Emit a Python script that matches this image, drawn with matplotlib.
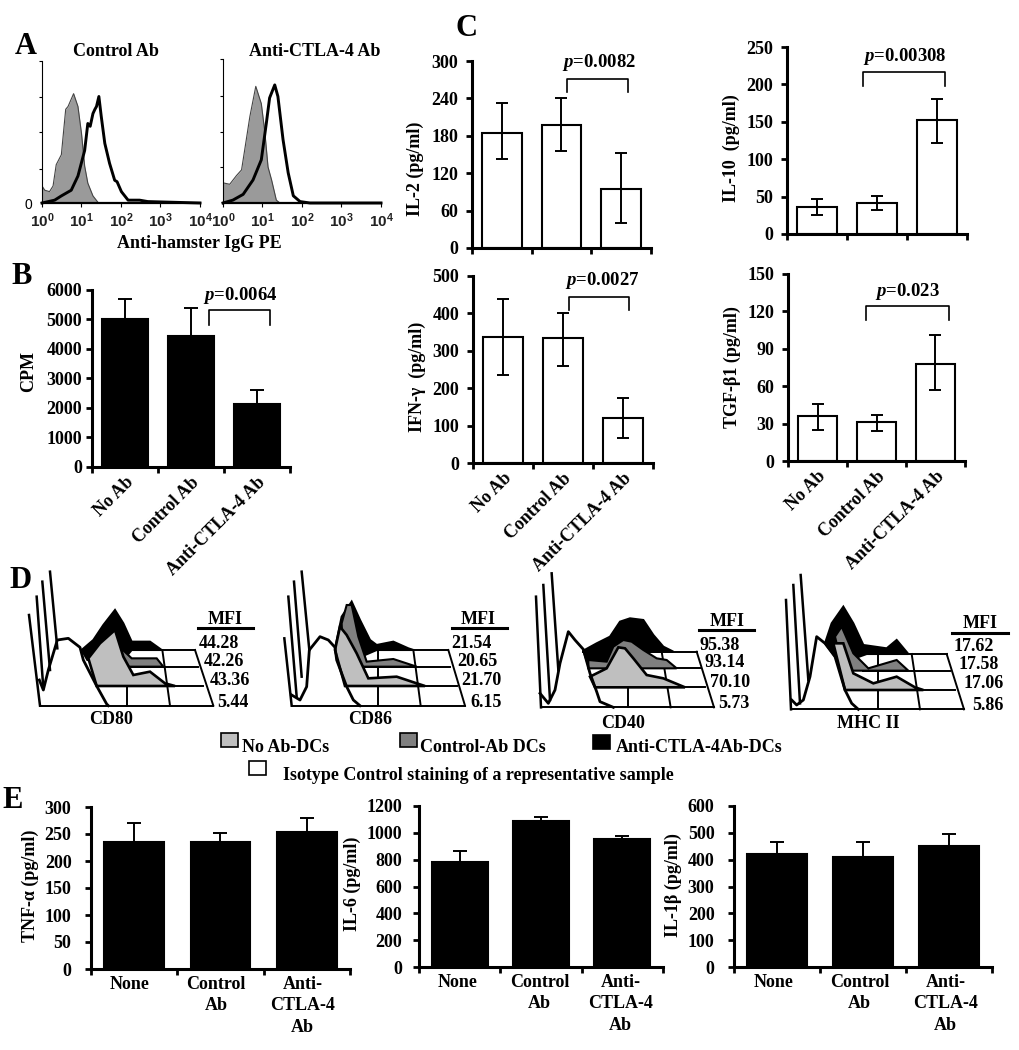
#!/usr/bin/env python3

import matplotlib
matplotlib.use("Agg")
import matplotlib.pyplot as plt
from matplotlib.patches import Rectangle

plt.rcParams["font.family"] = "Liberation Serif"
plt.rcParams["font.weight"] = "bold"
plt.rcParams["font.size"] = 13
plt.rcParams["mathtext.fontset"] = "custom"
plt.rcParams["mathtext.it"] = "Liberation Serif:italic:bold"
plt.rcParams["mathtext.rm"] = "Liberation Serif:bold"
plt.rcParams["mathtext.sf"] = "Liberation Sans"

W, H = 1020, 1050

# panel A, log10 of fluorescence and percent of scale
a1_iso_x = [0, .07, .19, .28, .36, .49, .6, .66, .8, .91, 1.0, 1.08, 1.16, 1.29, 1.43]
a1_iso_y = [12, 9, 8, 12, 27, 34, 66, 68, 77, 68, 49, 26, 14, 5, 0]
a1_ab_x = [0, .32, .49, .74, .91, 1.08, 1.16, 1.22, 1.29, 1.34, 1.38, 1.44, 1.5, 1.59, 1.71, 1.84, 1.9, 2.01, 2.18, 2.47, 2.68, 4.0]
a1_ab_y = [0, 2, 5, 9, 19, 37, 56, 54, 63, 66, 68, 75, 61, 42, 28, 16, 15, 8, 2, 2, 1, 0]
a2_iso_x = [0, .17, .34, .47, .55, .68, .83, .97, 1.06, 1.14, 1.23, 1.35, 1.44]
a2_iso_y = [14, 13, 19, 23, 37, 60, 81, 69, 49, 25, 16, 2, 0]
a2_ab_x = [0, .25, .51, .76, .97, 1.10, 1.18, 1.31, 1.39, 1.52, 1.65, 1.78, 1.95, 2.2, 4.0]
a2_ab_y = [0, 2, 6, 16, 30, 56, 73, 82, 74, 44, 21, 5, 1, 0, 0]

# bar panels
cats_b = ["No Ab", "Control Ab", "Anti-CTLA-4 Ab"]
cats_e = ["None", "Control\nAb", "Anti-\nCTLA-4\nAb"]
cpm = [5030, 4450, 2150]
cpm_hi = [5680, 5380, 2600]
il2 = [184, 198, 94]
il2_lo = [142, 155, 40]
il2_hi = [232, 240, 152]
il10 = [36, 42, 152]
il10_lo = [25, 32, 122]
il10_hi = [47, 51, 180]
ifng = [337, 333, 120]
ifng_lo = [235, 260, 68]
ifng_hi = [438, 400, 174]
tgfb = [36, 31, 78]
tgfb_lo = [25, 24, 57]
tgfb_hi = [46, 37, 101]
tnfa = [236, 236, 253]
tnfa_hi = [271, 252, 280]
il6 = [785, 1090, 955]
il6_hi = [865, 1120, 980]
il1b = [422, 410, 452]
il1b_hi = [465, 465, 495]

# panel D, traces
cd80_black = [(262, 300), (245, 270), (280, 240), (310, 195), (345, 150), (370, 190), (395, 245), (450, 245),
              (485, 270), (395, 270), (370, 300)]
cd80_dark = [(360, 320), (360, 262), (395, 295), (470, 295), (490, 320)]
cd80_light = [(290, 378), (265, 295), (300, 250), (345, 210), (370, 290), (400, 345), (450, 335), (495, 370), (525, 378)]
cd80_valley = [(118, 360), (130, 390), (145, 330), (172, 240), (205, 235), (240, 262), (250, 300), (290, 378), (320, 432), (325, 437)]
cd80_spikes = [(87, 165, 120, 437), (110, 110, 130, 385), (127, 65, 150, 330), (150, 35, 172, 265)]
cd80_frames = [(120, 437, 640, 437), (290, 378, 610, 378), (390, 320, 595, 320), (480, 270, 585, 270),
               (585, 270, 640, 437), (380, 378, 380, 437), (487, 270, 510, 437)]
cd86_black = [(1015, 300), (1005, 265), (1025, 170), (1055, 125), (1080, 180), (1110, 240), (1130, 255), (1180, 245),
              (1225, 265), (1240, 270), (1130, 270), (1060, 300)]
cd86_dark = [(1030, 320), (1025, 190), (1040, 135), (1055, 135), (1075, 230), (1100, 305), (1180, 297), (1250, 320)]
cd86_light = [(1035, 378), (1005, 270), (1020, 200), (1040, 225), (1070, 280), (1105, 355), (1190, 350), (1250, 370), (1275, 378)]
cd86_valley = [(875, 405), (900, 420), (920, 380), (928, 270), (960, 230), (985, 240), (1005, 262), (1010, 300), (1040, 380), (1060, 420), (1080, 437)]
cd86_spikes = [(853, 235, 875, 437), (865, 110, 890, 410), (882, 65, 905, 350), (905, 35, 928, 270)]
cd86_frames = [(875, 437, 1395, 437), (1035, 378, 1370, 378), (1090, 320, 1350, 320), (1100, 270, 1345, 270),
               (1345, 270, 1395, 437), (1133, 270, 1133, 437), (1240, 270, 1262, 437)]
cd40_black = [(230, 302), (220, 272), (260, 250), (300, 230), (330, 185), (360, 175), (400, 180), (430, 225), (460, 260),
              (490, 275), (400, 275), (330, 302)]
cd40_dark = [(235, 325), (235, 300), (290, 305), (310, 260), (340, 240), (365, 245), (400, 270), (440, 295), (470, 300), (500, 325)]
cd40_light = [(255, 382), (240, 350), (290, 325), (325, 262), (345, 265), (370, 295), (410, 345), (460, 355), (525, 382)]
cd40_valley = [(90, 400), (115, 430), (135, 390), (150, 310), (175, 215), (195, 240), (220, 268), (240, 340), (260, 395), (270, 425), (310, 442)]
cd40_spikes = [(78, 110, 93, 442), (100, 75, 120, 420), (125, 40, 145, 330)]
cd40_frames = [(93, 442, 612, 442), (255, 382, 585, 382), (240, 325, 570, 325), (220, 275, 560, 275),
               (560, 275, 612, 442), (353, 330, 353, 442), (455, 275, 482, 442)]
mhc_black = [(975, 290), (945, 250), (965, 190), (1000, 140), (1030, 190), (1060, 255), (1130, 265), (1160, 240), (1195, 282),
             (1070, 282), (1020, 300)]
mhc_dark = [(1000, 332), (975, 230), (995, 200), (1030, 280), (1075, 325), (1160, 300), (1195, 332)]
mhc_light = [(1005, 390), (970, 250), (1000, 250), (1030, 340), (1090, 370), (1160, 350), (1215, 382), (1240, 390)]
mhc_valley = [(845, 420), (860, 435), (880, 420), (900, 350), (920, 230), (945, 250), (975, 290), (1005, 390), (1025, 430), (1045, 448)]
mhc_spikes = [(828, 120, 843, 448), (850, 75, 870, 430), (872, 45, 895, 360)]
mhc_frames = [(843, 448, 1362, 448), (1005, 390, 1335, 390), (1060, 332, 1320, 332), (1065, 282, 1310, 282),
              (1310, 282, 1362, 448), (1103, 282, 1103, 448), (1205, 282, 1230, 448)]

cd80_mfi = ["44.28", "42.26", "43.36", "5.44"]
cd86_mfi = ["21.54", "20.65", "21.70", "6.15"]
cd40_mfi = ["95.38", "93.14", "70.10", "5.73"]
mhc_mfi = ["17.62", "17.58", "17.06", "5.86"]

GRAY_LIGHT = "#bfbfbf"
GRAY_DARK = "#808080"
GRAY_A = "#9a9a9a"

fig = plt.figure(figsize=(W / 100, H / 100), dpi=100, facecolor="white")


def axes_px(left, top, right, base):
    return fig.add_axes([left / W, 1 - base / H, (right - left) / W, (base - top) / H])


def flow_panel(left, top, right, base, iso_x, iso_y, ab_x, ab_y, yticks):
    ax = axes_px(left, top, right, base)
    ax.set_xscale("log")
    ax.set_xlim(1, 1e4)
    ax.set_ylim(0, 100)
    ax.fill_between([10 ** v for v in iso_x], iso_y, 0, color=GRAY_A, lw=0)
    ax.plot([10 ** v for v in iso_x], iso_y, c="#444444", lw=0.8)
    ax.plot([10 ** v for v in ab_x], ab_y, c="black", lw=2.1, solid_joinstyle="round", clip_on=False)
    for s in ["top", "right"]:
        ax.spines[s].set_visible(False)
    ax.spines["left"].set_linewidth(0.8)
    ax.spines["bottom"].set_linewidth(1.6)
    ax.set_xticks([1, 10, 100, 1000, 10000])
    ax.set_xticklabels([r"$\mathsf{10^{%d}}$" % i for i in range(5)], fontsize=11, color="#222222")
    ax.tick_params(axis="x", which="major", length=3, width=0.8, pad=3)
    ax.tick_params(axis="x", which="minor", length=2, width=0.5, labelbottom=False)
    ax.set_yticks(yticks)
    ax.set_yticklabels([])
    ax.tick_params(axis="y", length=2, width=0.8)
    ax.patch.set_alpha(0)
    return ax


def bar_panel(box, vals, lo, hi, ymax, yticks, ylabel, label_xy, cats, filled, width, pad=3, shift=0.0, rotate=True):
    left, top, right, base = box
    ax = axes_px(left, top, right, base)
    xs = [0, 1, 2]
    color = "black" if filled else "white"
    ax.bar(xs, vals, width=width, color=color, edgecolor="black", linewidth=1.5, zorder=2)
    if lo is None:
        ax.errorbar(xs, vals, yerr=[[0, 0, 0], [h - v for h, v in zip(hi, vals)]], fmt="none",
                    ecolor="black", elinewidth=1.4, capsize=5, capthick=1.4, zorder=3)
    else:
        ax.errorbar(xs, vals, yerr=[[v - l for v, l in zip(vals, lo)], [h - v for h, v in zip(hi, vals)]],
                    fmt="none", ecolor="black", elinewidth=1.4, capsize=4.5, capthick=1.4, zorder=3)
    ax.set_xlim(-0.5, 2.5)
    ax.set_ylim(0, ymax)
    for s in ["top", "right"]:
        ax.spines[s].set_visible(False)
    for s in ["left", "bottom"]:
        ax.spines[s].set_linewidth(2.2)
        ax.spines[s].set_zorder(5)
    ax.set_yticks(yticks)
    ax.tick_params(axis="y", length=4, width=2, pad=pad, labelsize=13)
    ax.set_xticks([-0.5, 0.5, 1.5, 2.5])
    ax.set_xticklabels([])
    ax.tick_params(axis="x", which="major", length=4, width=2)
    ax.set_xticks([x + shift for x in xs], minor=True)
    if cats is not None:
        if rotate:
            ax.set_xticklabels(cats, minor=True, rotation=45, ha="right", rotation_mode="anchor", fontsize=13)
            ax.tick_params(axis="x", which="minor", length=0, pad=5)
        else:
            ax.set_xticklabels(cats, minor=True, fontsize=13, linespacing=1.35)
            ax.tick_params(axis="x", which="minor", length=0, pad=5)
    else:
        ax.tick_params(axis="x", which="minor", length=0)
    ov.text(label_xy[0], label_xy[1], ylabel, rotation=90, ha="center", va="center", fontsize=13)
    ax.patch.set_alpha(0)
    return ax


def bracket(ax, x0, x1, top, bottom, text, tx, ty):
    ax.plot([x0, x0, x1, x1], [bottom, top, top, bottom], c="black", lw=1.2, clip_on=False, zorder=4)
    ax.text(tx, ty, text, ha="center", va="center", fontsize=13.5, clip_on=False)


def xy(points):
    return [p[0] for p in points], [p[1] for p in points]


def stack(ax, black, dark, light, valley, spikes, frames):
    for f in frames:
        ax.plot([f[0], f[2]], [f[1], f[3]], c="black", lw=1.4, zorder=1)
    for s in spikes:
        ax.plot([s[0], s[2]], [s[1], s[3]], c="black", lw=1.8, zorder=1)
    ax.fill(*xy(black), facecolor="black", edgecolor="black", lw=1.5, zorder=2)
    ax.fill(*xy(dark), facecolor=GRAY_DARK, edgecolor="black", lw=1.5, zorder=3)
    ax.fill(*xy(light), facecolor=GRAY_LIGHT, edgecolor="black", lw=1.9, zorder=4)
    ax.plot(*xy(valley), c="black", lw=2.0, zorder=5)


def mfi(ax, values, cx, top_y, line_x0, line_x1, lefts, ys, name, name_x, name_y):
    ax.text(cx, top_y, "MFI", ha="center", va="center", fontsize=13)
    ax.plot([line_x0, line_x1], [top_y + 26, top_y + 26], c="black", lw=2.2)
    for v, lx, y in zip(values, lefts, ys):
        ax.text(lx, y, v, ha="left", va="center", fontsize=13)
    ax.text(name_x, name_y, name, ha="center", va="center", fontsize=13)


# overlay in image pixels, for loose text and the legend
ov = fig.add_axes([0, 0, 1, 1])
ov.set_xlim(0, W)
ov.set_ylim(H, 0)
ov.axis("off")

for letter, x, y in [("A", 26, 47), ("B", 22, 277), ("C", 467, 28), ("D", 21, 581), ("E", 13, 800)]:
    ov.text(x, y, letter, fontsize=22, ha="center", va="center")

ov.text(116, 51, "Control Ab", ha="center", va="center")
ov.text(315, 51, "Anti-CTLA-4 Ab", ha="center", va="center")
ov.text(199, 243, "Anti-hamster IgG PE", ha="center", va="center")
ov.text(28, 205, "0", ha="center", va="center", fontsize=10, family="Liberation Sans", weight="normal")

flow_panel(42, 61, 200, 203, a1_iso_x, a1_iso_y, a1_ab_x, a1_ab_y, [24, 50, 75, 100])
flow_panel(223, 59, 381, 203, a2_iso_x, a2_iso_y, a2_ab_x, a2_ab_y, [25, 49, 74, 100])

ax = bar_panel((92, 290, 290, 467), cpm, None, cpm_hi, 6000, range(0, 6001, 1000), "CPM", (29, 372), cats_b, True, 0.70)
bracket(ax, 1.27, 2.19, 5322, 4814, "$p$=0.0064", 1.74, 5830)

ax = bar_panel((472, 61, 651, 248), il2, il2_lo, il2_hi, 300, range(0, 301, 60), "IL-2 (pg/ml)", (415, 169), None, False, 0.67, pad=6)
bracket(ax, 1.1, 2.12, 271, 250, "$p$=0.0082", 1.63, 297)

ax = bar_panel((787, 47, 967, 234), il10, il10_lo, il10_hi, 250, range(0, 251, 50), "IL-10  (pg/ml)", (731, 148), None, False, 0.67, pad=6)
bracket(ax, 0.77, 2.13, 216.6, 198, "$p$=0.00308", 1.47, 237)

ax = bar_panel((473, 276, 653, 463), ifng, ifng_lo, ifng_hi, 500, range(0, 501, 100), "IFN-γ  (pg/ml)", (417, 377), cats_b, False, 0.67, pad=6)
bracket(ax, 1.1, 2.1, 444, 409, "$p$=0.0027", 1.65, 487)

ax = bar_panel((788, 274, 965, 461), tgfb, tgfb_lo, tgfb_hi, 150, range(0, 151, 30), "TGF-β1 (pg/ml)", (732, 367), cats_b, False, 0.67, pad=6)
bracket(ax, 0.82, 2.23, 124, 113, "$p$=0.023", 1.52, 136)

bar_panel((91, 807, 350, 969), tnfa, None, tnfa_hi, 300, range(0, 301, 50), "TNF-α (pg/ml)", (30, 886), cats_e, True, 0.69, pad=10, shift=-0.05, rotate=False)
bar_panel((419, 806, 663, 967), il6, None, il6_hi, 1200, range(0, 1201, 200), "IL-6 (pg/ml)", (352, 884), cats_e, True, 0.69, pad=8, shift=-0.02, rotate=False)
bar_panel((734, 806, 992, 967), il1b, None, il1b_hi, 600, range(0, 601, 100), "IL-1β (pg/ml)", (673, 885), cats_e, True, 0.69, pad=10, shift=-0.04, rotate=False)

# panel D, two axes with the units of the read scan
d_left = axes_px(0, 560, 520, 790)
d_left.set_xlim(0, 1560)
d_left.set_ylim(690, 0)
d_left.axis("off")
stack(d_left, cd80_black, cd80_dark, cd80_light, cd80_valley, cd80_spikes, cd80_frames)
stack(d_left, cd86_black, cd86_dark, cd86_light, cd86_valley, cd86_spikes, cd86_frames)
mfi(d_left, cd80_mfi, 675, 178, 595, 760, [595, 612, 628, 652], [250, 303, 362, 427], "CD80", 332, 480)
mfi(d_left, cd86_mfi, 1435, 178, 1355, 1520, [1355, 1372, 1385, 1412], [250, 303, 362, 427], "CD86", 1110, 480)

d_right = axes_px(510, 560, 1020, 790)
d_right.set_xlim(0, 1530)
d_right.set_ylim(690, 0)
d_right.axis("off")
stack(d_right, cd40_black, cd40_dark, cd40_light, cd40_valley, cd40_spikes, cd40_frames)
stack(d_right, mhc_black, mhc_dark, mhc_light, mhc_valley, mhc_spikes, mhc_frames)
mfi(d_right, cd40_mfi, 650, 184, 567, 733, [568, 585, 600, 625], [255, 308, 367, 432], "CD40", 340, 490)
mfi(d_right, mhc_mfi, 1410, 192, 1327, 1495, [1330, 1347, 1362, 1387], [260, 314, 372, 438], "MHC II", 1075, 490)

# legend of panel D
for x, y, color in [(221, 733, GRAY_LIGHT), (400, 733, GRAY_DARK), (593, 735, "black"), (249, 761, "white")]:
    ov.add_patch(Rectangle((x, y), 17, 14, facecolor=color, edgecolor="black", lw=1.2))
ov.text(242, 747, "No Ab-DCs", va="center")
ov.text(420, 747, "Control-Ab DCs", va="center")
ov.text(616, 747, "Anti-CTLA-4Ab-DCs", va="center")
ov.text(283, 775, "Isotype Control staining of a representative sample", va="center")

fig.savefig("out.png", dpi=100)
